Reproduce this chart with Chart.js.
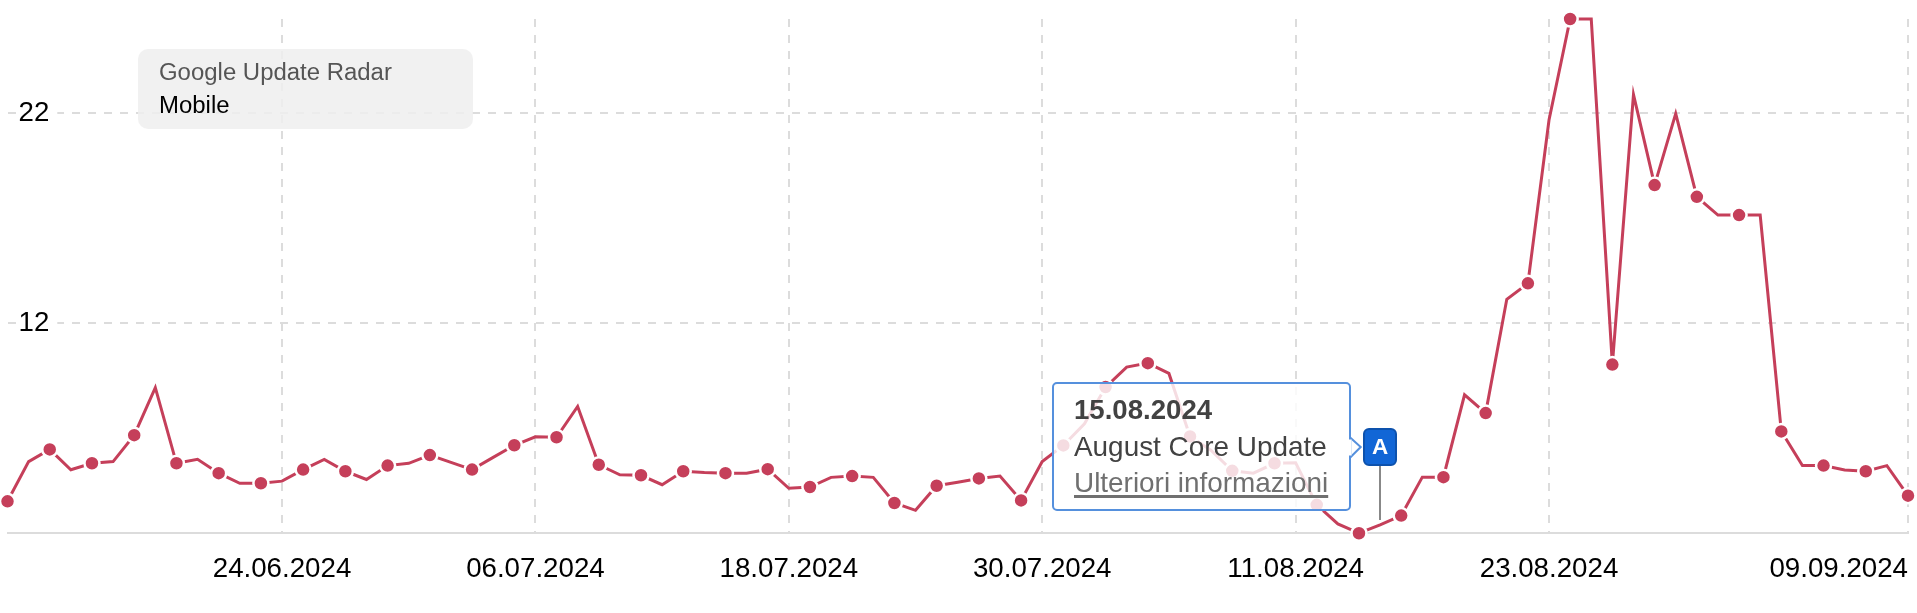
<!DOCTYPE html>
<html lang="it">
<head>
<meta charset="utf-8">
<title>Google Update Radar</title>
<script src="https://cdn.jsdelivr.net/npm/chart.js@4/dist/chart.umd.min.js"></script>
<style>
html,body{margin:0;padding:0;background:#fff;width:1917px;height:613px;overflow:hidden;font-family:"Liberation Sans",Arial,sans-serif}
#wrap{position:relative;width:1917px;height:613px}
canvas{position:absolute;left:0;top:0}
.abs{position:absolute;white-space:nowrap}
#legend{left:138px;top:49px;width:335px;height:80px;border-radius:10px;background:rgba(239,239,239,.85)}
.lg{font-size:23.95px;line-height:30px}
#tip{left:1052px;top:382px;width:295px;height:125px;border:2px solid #5590dd;border-radius:5px;background:rgba(255,255,255,.82)}
.tt{font-size:27.9px;line-height:32px;color:#424242}
#flag{left:1363px;top:428px;width:30px;height:34px;background:#1166d6;border:2px solid #0d52ad;border-radius:6px;color:#fff;font-weight:bold;font-size:22.5px;line-height:34px;text-align:center}
#stem{left:1379px;top:466px;width:2px;height:54px;background:#888}
</style>
</head>
<body>
<div id="wrap">
<canvas id="c" width="1917" height="613"></canvas>
<div class="abs" id="legend"></div>
<div class="abs lg" id="lg1" style="left:159px;top:57px;color:#555"></div>
<div class="abs lg" id="lg2" style="left:159px;top:90px;color:#000"></div>
<div class="abs" id="stem"></div>
<div class="abs" id="tip"></div>
<svg class="abs" style="left:1345px;top:430px" width="20" height="34"><polygon points="5.7,8 15.7,17 5.7,27" fill="#fff" stroke="#5590dd" stroke-width="2"/><rect x="3" y="9.5" width="3.7" height="16" fill="#fff"/></svg>
<div class="abs tt" id="t1" style="left:1074px;top:394px;font-weight:bold;font-size:27.6px"></div>
<div class="abs tt" id="t2" style="left:1074px;top:431px"></div>
<div class="abs tt" id="t3" style="left:1074px;top:467px;color:#707070;text-decoration:underline;text-decoration-thickness:3px;text-underline-offset:3px"></div>
<div class="abs" id="flag"></div>
</div>
<script>
const categories = [
"11.06.2024","12.06.2024","13.06.2024","14.06.2024","15.06.2024","16.06.2024","17.06.2024","18.06.2024","19.06.2024","20.06.2024",
"21.06.2024","22.06.2024","23.06.2024","24.06.2024","25.06.2024","26.06.2024","27.06.2024","28.06.2024","29.06.2024","30.06.2024",
"01.07.2024","02.07.2024","03.07.2024","04.07.2024","05.07.2024","06.07.2024","07.07.2024","08.07.2024","09.07.2024","10.07.2024",
"11.07.2024","12.07.2024","13.07.2024","14.07.2024","15.07.2024","16.07.2024","17.07.2024","18.07.2024","19.07.2024","20.07.2024",
"21.07.2024","22.07.2024","23.07.2024","24.07.2024","25.07.2024","26.07.2024","27.07.2024","28.07.2024","29.07.2024","30.07.2024",
"31.07.2024","01.08.2024","02.08.2024","03.08.2024","04.08.2024","05.08.2024","06.08.2024","07.08.2024","08.08.2024","09.08.2024",
"10.08.2024","11.08.2024","12.08.2024","13.08.2024","14.08.2024","15.08.2024","16.08.2024","17.08.2024","18.08.2024","19.08.2024",
"20.08.2024","21.08.2024","22.08.2024","23.08.2024","24.08.2024","25.08.2024","26.08.2024","27.08.2024","28.08.2024","29.08.2024",
"30.08.2024","31.08.2024","01.09.2024","02.09.2024","03.09.2024","04.09.2024","05.09.2024","06.09.2024","07.09.2024","08.09.2024","09.09.2024"];
const radarValues = [
3.51,5.40,5.98,5.01,5.32,5.40,6.66,8.92,5.32,5.51,
4.85,4.37,4.37,4.47,5.02,5.50,4.94,4.55,5.21,5.32,
5.71,5.36,5.02,5.60,6.18,6.58,6.56,8.03,5.25,4.77,
4.75,4.30,4.94,4.88,4.85,4.85,5.04,4.13,4.19,4.65,
4.71,4.65,3.43,3.08,4.25,4.42,4.60,4.71,3.55,5.40,
6.17,7.20,8.95,9.90,10.09,9.60,6.60,5.93,4.96,4.85,
5.32,5.34,3.34,2.43,1.99,2.39,2.83,4.66,4.66,8.58,
7.71,13.13,13.89,21.67,26.48,26.48,10.02,22.88,18.57,21.97,
18.01,17.14,17.14,17.14,6.84,5.21,5.21,5.00,4.94,5.21,3.78];
const xTickDates = ["24.06.2024","06.07.2024","18.07.2024","30.07.2024","11.08.2024","23.08.2024","09.09.2024"];
const yTickValues = [12,22];
const legendLines = ["Google Update Radar","Mobile"];
const noteLines = ["15.08.2024","August Core Update","Ulteriori informazioni"];
const noteMarker = "A";

document.getElementById('lg1').textContent = legendLines[0];
document.getElementById('lg2').textContent = legendLines[1];
document.getElementById('t1').textContent = noteLines[0];
document.getElementById('t2').textContent = noteLines[1];
document.getElementById('t3').textContent = noteLines[2];
document.getElementById('flag').textContent = noteMarker;

// Keep the plot area at the layout padding: the end markers overflow it, as in the reference.
Chart.registry.getController('line').prototype.getMaxOverflow = () => 0;

const RED = '#c53f5a', GRID = '#dcdcdc';
const noPad = s => { s.paddingLeft = s.paddingRight = s.paddingTop = s.paddingBottom = 0; };
new Chart(document.getElementById('c'), {
  type: 'line',
  data: { labels: categories, datasets: [{
    label: legendLines[0], data: radarValues, borderColor: RED, borderWidth: 3, tension: 0,
    borderJoinStyle: 'miter', clip: false,
    pointRadius: c => c.dataIndex % 2 === 0 ? 7.5 : 0,
    pointBackgroundColor: RED, pointBorderColor: '#fff', pointBorderWidth: 2.5
  }]},
  options: {
    responsive: false, animation: false, devicePixelRatio: 1,
    layout: { padding: { left: 7.5, right: 9, top: 19, bottom: 0 } },
    plugins: { legend: { display: false }, tooltip: { enabled: false } },
    events: [],
    scales: {
      x: {
        type: 'category', offset: false,
        afterBuildTicks: s => { s.ticks = [{value:0}].concat(xTickDates.map(d => ({value: categories.indexOf(d)}))); },
        afterFit: s => { s.height = 80; noPad(s); },
        grid: { color: c => c.index === 0 ? 'rgba(0,0,0,0)' : GRID, lineWidth: 2, drawTicks: false },
        border: { color: GRID, width: 2, dash: [8,8] },
        ticks: { autoSkip: false, maxRotation: 0, align: 'inner', padding: 20, color: '#000',
          font: { family: '"Liberation Sans"', size: 27.7 },
          callback: function (v) { const l = this.getLabelForValue(v); return xTickDates.includes(l) ? l : ''; } }
      },
      y: {
        min: 2, max: 26.48,
        afterBuildTicks: s => { s.ticks = yTickValues.map(v => ({value: v})); },
        afterFit: s => { s.width = 0; noPad(s); },
        grid: { color: GRID, lineWidth: 2, drawTicks: false },
        border: { display: false, dash: [8,8] },
        ticks: { mirror: true, padding: 11, color: '#000', showLabelBackdrop: true, backdropColor: '#fff', backdropPadding: {left:2,right:8,top:0,bottom:0},
          font: { family: '"Liberation Sans"', size: 27.7 } }
      }
    }
  }
});
</script>
</body>
</html>
